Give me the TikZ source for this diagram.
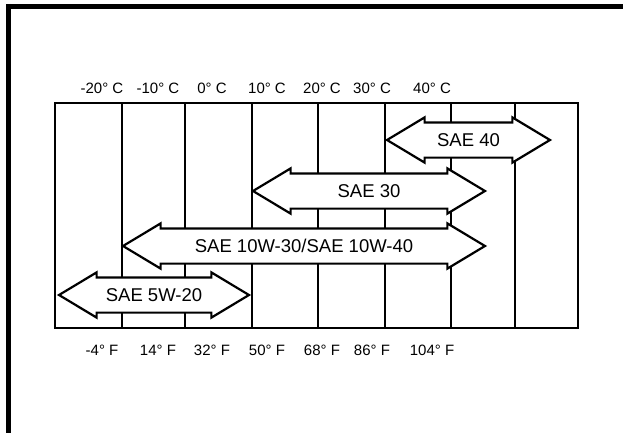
\documentclass[tikz,border=0pt]{standalone}
\usepackage{fontspec}
\setmainfont{Liberation Sans}
\usetikzlibrary{shapes.arrows}
\tikzset{
    gridline/.style={line width=2.2pt},
    frameline/.style={line width=5pt},
    every node/.style={inner sep=0pt},
    templabel/.style={font=\fontsize{15}{18}\selectfont},
    oilarrow/.style={double arrow, draw, fill=white, line width=2.2pt,
        double arrow tip angle=62, double arrow head extend=5pt,
        minimum width=43pt, inner xsep=0pt, inner ysep=10pt,
        text height=13pt, text depth=0pt, font=\fontsize{18.5}{21}\selectfont}
}

\begin{document}
\begin{tikzpicture}[x=1pt, y=-1pt]
  \useasboundingbox (0,0) rectangle (623,433);
  \draw[frameline] (8.5,4) -- (8.5,433);
  \draw[frameline] (8,6.5) -- (623,6.5);

  % chart grid
  \draw[gridline] (55,103) rectangle (578,328);
  \foreach \x in {122,185,252,318,385,451,515}
    \draw[gridline] (\x,103) -- (\x,328);

  % temperature scales
  \foreach \x/\c/\f in {102/-20/-4, 158/-10/14, 212/0/32, 267/10/50,
                        322/20/68, 372/30/86, 432/40/104} {
    \node (c\c) [templabel] at (\x,88) {\c° C};
    \node (f\f) [templabel] at (\x,350) {\f° F};
  }

  % oil grades
  \node (sae40) [oilarrow, minimum height=163pt] at (468.5,140) {SAE 40};
  \node (sae30) [oilarrow, minimum height=232pt] at (369,191) {SAE 30};
  \node (sae10w) [oilarrow, minimum height=362pt] at (304,246) {SAE 10W-30/SAE 10W-40};
  \node (sae5w) [oilarrow, minimum height=190pt] at (154,295) {SAE 5W-20};

\end{tikzpicture}
\end{document}
